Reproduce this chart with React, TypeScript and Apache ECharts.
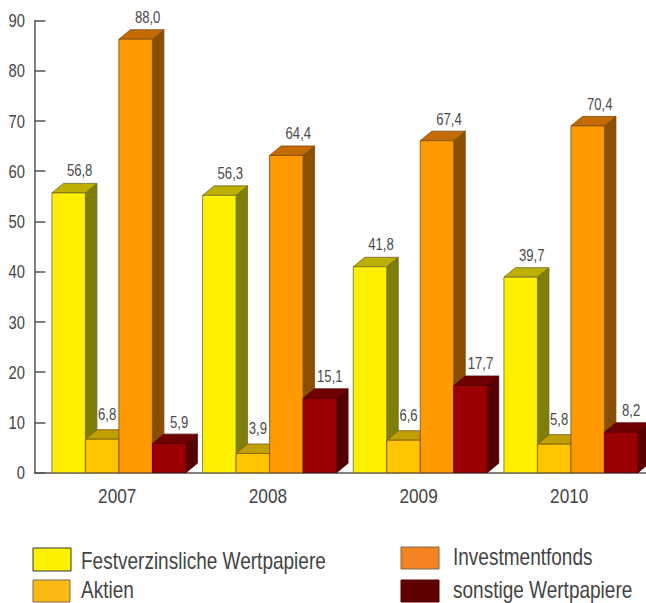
import React, { useEffect, useRef } from "react";
import * as echarts from "echarts";

const years = ["2007", "2008", "2009", "2010"];
const yTicks = [0, 10, 20, 30, 40, 50, 60, 70, 80, 90];
const seriesNames = ["Festverzinsliche Wertpapiere", "Aktien", "Investmentfonds", "sonstige Wertpapiere"];
const festverzinslich = [56.8, 56.3, 41.8, 39.7];
const aktien = [6.8, 3.9, 6.6, 5.8];
const investmentfonds = [88.0, 64.4, 67.4, 70.4];
const sonstige = [5.9, 15.1, 17.7, 8.2];
const seriesValues = [festverzinslich, aktien, investmentfonds, sonstige];

const faceColors = [
  { front: "#FFF000", top: "#BDB000", side: "#7F7F08", edge: "#6F6A30" },
  { front: "#FFC400", top: "#BFA000", side: "#7F7F08", edge: "#7A5A10" },
  { front: "#FF9900", top: "#C46A00", side: "#8A5000", edge: "#7A4A10" },
  { front: "#9A0000", top: "#700000", side: "#560000", edge: "#500000" },
];
const labelDx = [11, 5, 12, 10];
const labelDy = [-22, -25, -21.5, -21.5];
const legendFill = ["#FFF200", "#FDB913", "#F58220", "#5C0000"];
const legendEdge = ["#333333", "#7A6A50", "#7A6A50", "#5C0000"];
const legendBox = [
  [33, 548, 38, 23],
  [33, 580, 37, 22],
  [401, 547, 38, 22],
  [401, 580, 38, 22],
];
const legendText = [
  [81, 561],
  [81, 590],
  [453, 557],
  [453, 590],
];

const FONT = '"Liberation Sans", Arial, sans-serif';
const NARROW = 0.82;
const BAR_W = 33.5;
const DEPTH_X = 11.5;
const DEPTH_Y = 9.5;
const GROUP_SHIFT = 2.9;

function makeSeries(si: number) {
  const c = faceColors[si];
  return {
    type: "custom",
    name: seriesNames[si],
    xAxisIndex: 1,
    yAxisIndex: 1,
    data: seriesValues[si].map((v, i) => [i, v]),
    renderItem: (_p: any, api: any) => {
      const idx = api.value(0);
      const v = api.value(1);
      const [cx, t] = api.coord([idx, v]);
      const b = api.coord([idx, 0])[1];
      const l = cx + GROUP_SHIFT - 2 * BAR_W + si * BAR_W;
      const r = l + BAR_W;
      const lw = 0.8;
      return {
        type: "group",
        children: [
          {
            type: "polygon",
            shape: { points: [[r, t], [r + DEPTH_X, t - DEPTH_Y], [r + DEPTH_X, b - DEPTH_Y], [r, b]] },
            style: { fill: c.side, stroke: c.edge, lineWidth: lw },
          },
          {
            type: "polygon",
            shape: { points: [[l, t], [l + DEPTH_X, t - DEPTH_Y], [r + DEPTH_X, t - DEPTH_Y], [r, t]] },
            style: { fill: c.top, stroke: c.edge, lineWidth: lw },
          },
          {
            type: "rect",
            shape: { x: l, y: t, width: BAR_W, height: b - t },
            style: { fill: c.front, stroke: c.edge, lineWidth: lw },
          },
          {
            type: "text",
            x: (l + r) / 2 + labelDx[si],
            y: t + labelDy[si],
            scaleX: NARROW,
            style: {
              text: v.toFixed(1).replace(".", ","),
              align: "center",
              verticalAlign: "middle",
              fill: "#4a4a4a",
              font: `16px ${FONT}`,
            },
          },
        ],
      };
    },
  };
}

const yLabelSeries = {
  type: "custom",
  name: "y labels",
  xAxisIndex: 0,
  yAxisIndex: 0,
  silent: true,
  data: yTicks.map((v) => [0, v]),
  renderItem: (_p: any, api: any) => {
    const [x, y] = api.coord([api.value(0), api.value(1)]);
    return {
      type: "text",
      x: x - 9.5,
      y,
      scaleX: NARROW,
      style: {
        text: String(api.value(1)),
        align: "right",
        verticalAlign: "middle",
        fill: "#444444",
        font: `18px ${FONT}`,
      },
    };
  },
};

const xLabelSeries = {
  type: "custom",
  name: "x labels",
  xAxisIndex: 1,
  yAxisIndex: 1,
  silent: true,
  data: years.map((_, i) => [i, 0]),
  renderItem: (_p: any, api: any) => {
    const [x, y] = api.coord([api.value(0), 0]);
    return {
      type: "text",
      x: x + 1.2,
      y: y + 23,
      scaleX: NARROW,
      style: {
        text: years[api.value(0)],
        align: "center",
        verticalAlign: "middle",
        fill: "#444444",
        font: `21px ${FONT}`,
      },
    };
  },
};

export default function App() {
  const ref = useRef<HTMLDivElement>(null);
  useEffect(() => {
    document.body.style.margin = "0";
    const chart = echarts.init(ref.current!, null, { renderer: "svg" });
    chart.setOption({
      animation: false,
      backgroundColor: "#ffffff",
      grid: [
        { left: 34.5, width: 611.5, top: 20.5, height: 452.2 },
        { left: 40.67, width: 602.7, top: 20.5, height: 452.2 },
      ],
      xAxis: [
        {
          gridIndex: 0,
          type: "value",
          min: 0,
          max: 1,
          axisLine: { show: true, lineStyle: { color: "#555555", width: 1.5 } },
          axisTick: { show: false },
          axisLabel: { show: false },
          splitLine: { show: false },
        },
        {
          gridIndex: 1,
          type: "category",
          data: years,
          axisLine: { show: false },
          axisTick: { show: false },
          axisLabel: { show: false },
        },
      ],
      yAxis: [
        {
          gridIndex: 0,
          type: "value",
          min: 0,
          max: 90,
          interval: 10,
          axisLine: { show: true, lineStyle: { color: "#555555", width: 1.5 } },
          axisTick: { show: true, inside: true, length: 11, lineStyle: { color: "#555555", width: 1.5 } },
          axisLabel: { show: false },
          splitLine: { show: false },
        },
        {
          gridIndex: 1,
          type: "value",
          min: 0,
          max: 91.8,
          show: false,
          splitLine: { show: false },
        },
      ],
      series: [...seriesNames.map((_, si) => makeSeries(si)), yLabelSeries, xLabelSeries],
      graphic: [
        ...legendBox.map((b, i) => ({
          type: "rect",
          shape: { x: b[0], y: b[1], width: b[2], height: b[3] },
          style: { fill: legendFill[i], stroke: legendEdge[i], lineWidth: 1 },
        })),
        ...legendText.map((p, i) => ({
          type: "text",
          x: p[0],
          y: p[1],
          scaleX: NARROW,
          style: {
            text: seriesNames[i],
            fill: "#444444",
            font: `23.2px ${FONT}`,
            verticalAlign: "middle",
          },
        })),
      ],
    });
    return () => chart.dispose();
  }, []);
  return <div ref={ref} style={{ position: "fixed", left: 0, top: 0, width: 646, height: 603 }} />;
}
